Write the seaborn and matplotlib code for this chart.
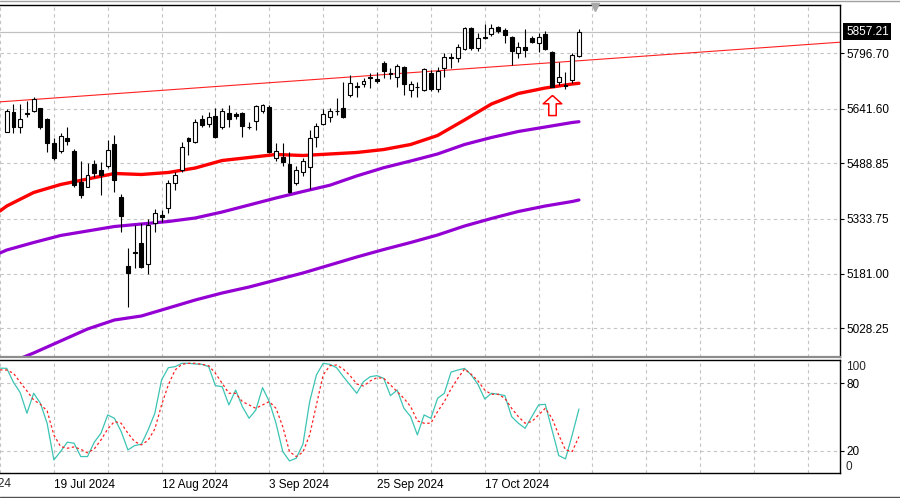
import numpy as np
import seaborn as sns
import matplotlib.pyplot as plt
from matplotlib.path import Path
from matplotlib.lines import Line2D
from matplotlib.transforms import ScaledTranslation, blended_transform_factory

# ---------------------------
# Data (daily bars, bar 0 = 10 Jul 2024)
# ---------------------------
opens = [5577.6, 5631.8, 5591.6, 5629.0, 5636.3, 5643.0, 5612.3, 5546.9, 5523.7, 5560.8,
         5523.7, 5437.8, 5423.9, 5487.3, 5470.5, 5481.7, 5543.2, 5394.2, 5202.2, 5240.5,
         5267.4, 5207.8, 5321.6, 5344.8, 5363.5, 5433.4, 5470.5, 5559.1, 5549.6, 5612.3,
         5599.1, 5621.5, 5591.6, 5630.7, 5626.2, 5629.0, 5590.7, 5608.3, 5636.3, 5645.8,
         5503.3, 5507.7, 5487.3, 5435.1, 5465.8, 5479.8, 5561.9, 5599.1, 5619.5, 5636.3,
         5643.0, 5680.2, 5705.3, 5710.9, 5726.9, 5724.0, 5768.8, 5742.5, 5729.6, 5759.3,
         5694.1, 5703.9, 5694.1, 5742.5, 5696.1, 5754.8, 5787.2, 5782.8, 5808.7, 5868.3,
         5812.4, 5838.7, 5849.8, 5871.1, 5861.8, 5843.1, 5796.7, 5815.2, 5838.7, 5824.7,
         5849.8, 5801.2, 5717.3, 5708.1, 5722.1, 5790.0]
highs = [5639.7, 5655.0, 5655.0, 5664.2, 5673.7, 5644.5, 5614.5, 5559.2, 5574.8, 5589.9,
         5528.4, 5496.5, 5489.3, 5498.5, 5493.7, 5554.4, 5568.4, 5403.5, 5251.7, 5316.8,
         5323.3, 5332.8, 5360.7, 5358.7, 5442.6, 5465.8, 5549.6, 5563.6, 5612.3, 5624.3,
         5633.5, 5643.0, 5643.0, 5652.2, 5633.5, 5633.5, 5605.5, 5652.2, 5655.0, 5652.2,
         5545.2, 5546.9, 5521.7, 5481.7, 5503.3, 5582.3, 5601.1, 5640.2, 5643.0, 5671.0,
         5717.3, 5736.1, 5717.3, 5726.9, 5740.8, 5745.3, 5776.0, 5754.8, 5766.8, 5762.0,
         5720.1, 5717.3, 5754.8, 5750.0, 5757.6, 5798.4, 5796.7, 5821.9, 5871.1, 5871.1,
         5852.6, 5877.8, 5877.8, 5873.9, 5866.6, 5845.9, 5829.1, 5864.6, 5845.9, 5852.6,
         5859.1, 5803.2, 5773.2, 5745.3, 5796.7, 5864.6]
lows = [5575.4, 5574.8, 5573.1, 5619.5, 5633.5, 5584.3, 5521.7, 5498.5, 5517.2, 5540.4,
        5423.9, 5391.5, 5422.2, 5450.1, 5400.7, 5475.3, 5409.9, 5298.1, 5088.5, 5195.8,
        5195.8, 5179.9, 5296.4, 5326.0, 5349.5, 5414.6, 5465.8, 5512.5, 5546.9, 5589.9,
        5589.9, 5559.1, 5584.3, 5589.9, 5612.3, 5561.9, 5584.3, 5582.3, 5629.0, 5517.2,
        5496.5, 5481.7, 5407.5, 5428.6, 5453.8, 5417.4, 5535.7, 5596.3, 5605.5, 5624.3,
        5615.1, 5673.7, 5675.4, 5703.4, 5698.9, 5712.9, 5726.9, 5724.1, 5703.4, 5680.2,
        5673.7, 5675.4, 5692.2, 5692.2, 5689.4, 5731.3, 5754.8, 5773.2, 5805.9, 5805.9,
        5803.2, 5836.7, 5845.9, 5852.6, 5824.7, 5764.0, 5784.4, 5787.2, 5824.7, 5801.2,
        5805.9, 5703.4, 5708.1, 5696.9, 5712.9, 5787.2]
closes = [5636.3, 5589.9, 5612.3, 5626.2, 5668.2, 5591.6, 5545.2, 5503.3, 5566.4, 5552.4,
          5428.6, 5400.7, 5456.6, 5463.0, 5456.6, 5526.4, 5442.6, 5342.0, 5183.5, 5239.4,
          5200.3, 5316.8, 5349.5, 5340.0, 5433.4, 5456.6, 5535.7, 5552.4, 5605.5, 5596.3,
          5619.5, 5561.9, 5636.3, 5612.3, 5621.5, 5594.4, 5589.9, 5649.4, 5652.2, 5521.7,
          5524.5, 5493.7, 5409.9, 5470.5, 5496.5, 5559.1, 5593.5, 5626.2, 5636.3, 5635.5,
          5617.8, 5712.9, 5703.9, 5720.1, 5731.3, 5720.1, 5748.1, 5739.7, 5761.2, 5710.9,
          5710.9, 5703.4, 5752.0, 5696.1, 5748.1, 5787.2, 5782.8, 5815.2, 5868.3, 5810.7,
          5840.3, 5843.1, 5868.3, 5859.1, 5847.9, 5803.2, 5815.2, 5805.9, 5829.1, 5843.1,
          5808.7, 5703.4, 5731.3, 5705.3, 5792.0, 5857.21]

# moving averages, read at every 4th bar
ma_idx = [-1, 0, 4, 8, 12, 16, 20, 24, 28, 32, 36, 40, 44, 48, 52, 56, 60, 64, 68, 72, 76, 80, 84, 85]
ma_fast = [5356.0, 5369.9, 5407.7, 5430.0, 5445.4, 5460.8, 5458.0, 5463.6, 5476.1, 5497.1, 5505.5, 5513.9,
           5511.1, 5515.3, 5519.5, 5527.8, 5541.8, 5567.0, 5610.3, 5655.0, 5684.4, 5699.7, 5710.9, 5712.9]
ma_mid = [5238.6, 5246.9, 5267.9, 5287.5, 5300.1, 5312.6, 5319.6, 5326.6, 5336.4, 5353.2, 5372.7, 5392.3,
          5410.5, 5428.0, 5454.0, 5477.0, 5495.7, 5515.3, 5541.8, 5561.4, 5578.2, 5590.7, 5603.3, 5605.5]
ma_slow = [4922.7, 4928.3, 4959.1, 4992.6, 5026.1, 5051.3, 5062.5, 5084.8, 5107.2, 5126.8, 5143.5, 5163.1,
           5182.7, 5205.0, 5227.4, 5248.3, 5267.9, 5288.9, 5314.0, 5335.0, 5354.6, 5369.9, 5382.5, 5386.7]

# trend line end points (bar index, price)
trend_idx = [-1, 124]
trend_val = [5661.0, 5828.0]

# stochastic %K / %D, bar -1 .. 85
stoch_k = [93.5, 93.3, 80.9, 71.7, 53.3, 71.1, 62.2, 44.4, 11.7, 19.2, 27.5, 26.6, 14.7, 14.7, 27.5, 35.5,
           51.8, 48.8, 37.0, 20.6, 24.5, 25.7, 38.4, 53.3, 83.0, 93.9, 94.8, 97.8, 97.8, 97.2, 96.9, 94.8,
           77.9, 77.0, 60.7, 74.0, 59.2, 48.8, 56.2, 76.1, 63.7, 44.4, 19.2, 10.8, 13.2, 25.7, 63.7, 87.4,
           97.8, 96.9, 93.9, 85.9, 78.5, 71.1, 81.5, 85.9, 86.8, 84.4, 69.0, 74.0, 57.7, 50.3, 34.0, 51.8,
           48.8, 66.6, 71.1, 90.0, 91.8, 93.3, 87.4, 79.1, 66.0, 71.1, 70.2, 69.0, 50.3, 44.4, 39.9, 50.3,
           60.7, 61.3, 38.4, 15.6, 12.6, 34.0, 57.1]
stoch_d = [92.0, 91.8, 88.9, 80.9, 73.2, 65.1, 61.3, 55.4, 34.0, 23.6, 22.1, 23.3, 21.2, 18.0, 21.5, 29.5,
           39.3, 45.9, 44.4, 35.5, 28.1, 25.1, 29.2, 39.3, 60.7, 78.5, 91.8, 96.9, 97.8, 97.8, 96.9, 95.7,
           88.9, 80.0, 71.1, 71.1, 63.7, 60.7, 57.7, 60.7, 63.7, 57.7, 41.4, 19.2, 14.7, 18.6, 34.0, 60.7,
           87.4, 95.7, 96.3, 92.7, 86.8, 79.4, 77.6, 82.1, 85.0, 84.4, 78.5, 72.6, 66.6, 59.2, 46.5, 44.4,
           44.4, 54.8, 63.7, 75.0, 84.4, 92.7, 88.0, 82.1, 74.0, 70.2, 70.2, 66.6, 57.7, 50.3, 44.4, 45.9,
           51.8, 57.7, 48.8, 34.0, 20.6, 19.2, 32.5]

price_ticks = [5028.25, 5181.00, 5333.75, 5488.85, 5641.60, 5796.70]
last_price = 5857.21
date_idx = [7, 23, 39, 55, 71]
date_labels = ["19 Jul 2024", "12 Aug 2024", "3 Sep 2024", "25 Sep 2024", "17 Oct 2024"]
cut_date_idx = -9
cut_date_label = "27 Jun 2024"
arrow_bar = 81

# ---------------------------
# Layout
# ---------------------------
sns.set_style("white")
plt.rcParams['font.family'] = ['Liberation Sans', 'DejaVu Sans']
FS = 8.5
GRID = dict(color='#c4c4c4', linestyle=(0, (3, 3)), linewidth=0.8)

W, H = 900, 498
fig = plt.figure(figsize=(W / 100, H / 100), dpi=100)


def fy(px):
    return 1 - px / H


ax = fig.add_axes([0, fy(356.5), 840 / W, (356.5 - 5) / H])
ax2 = fig.add_axes([0, fy(472.5), 840 / W, (472.5 - 359.5) / H])

xlo, xhi = -4.5 / 6.75, (840 - 4.5) / 6.75
grid_idx = np.arange(-1, 125, 8)

# ---------------------------
# Price panel
# ---------------------------
o, h, l, c = (np.array(v) for v in (opens, highs, lows, closes))
idx = np.arange(len(c))
up = c >= o

sns.lineplot(x=ma_idx, y=ma_slow, ax=ax, color='#9400d3', lw=2.3, zorder=2)
sns.lineplot(x=ma_idx, y=ma_mid, ax=ax, color='#9400d3', lw=2.3, zorder=2)
sns.lineplot(x=ma_idx, y=ma_fast, ax=ax, color='#ff0000', lw=2.4, zorder=2)
ax.plot(trend_idx, trend_val, color='#ff2020', lw=0.8, zorder=2)
ax.axhline(last_price, color='#c0c0c0', lw=0.9, zorder=1)

ax.vlines(idx, l, h, color='black', lw=0.8, zorder=3)
ax.bar(idx[up], (c - o)[up], bottom=o[up], width=0.58, color='white',
       edgecolor='black', linewidth=0.8, zorder=4)
ax.bar(idx[~up], (o - c)[~up], bottom=c[~up], width=0.58, color='black',
       edgecolor='black', linewidth=0.8, zorder=4)

# hollow up arrow under the 31 Oct bar
arrow = Path([(0, 1), (0.92, 0.17), (0.37, 0.17), (0.37, -1), (-0.37, -1),
              (-0.37, 0.17), (-0.92, 0.17), (0, 1)])
ax.plot([arrow_bar], [lows[arrow_bar]], marker=arrow, ms=14.5, mfc='white', mec='#ff0000',
        mew=1.1, ls='none', zorder=5,
        transform=ax.transData + ScaledTranslation(0, -0.183, fig.dpi_scale_trans))

ax.set_xlim(xlo, xhi)
ax.set_ylim(4949.3, 5931.7)
ax.set_xticks(grid_idx)
ax.tick_params(axis='x', length=0, labelbottom=False)
ax.yaxis.tick_right()
ax.set_yticks(price_ticks)
ax.set_yticklabels([f"{v:.2f}" for v in price_ticks])
ax.tick_params(axis='y', length=3, width=0.8, pad=1.8, labelsize=FS, colors='black')
ax.grid(True, **GRID)
ax.set_axisbelow(True)
ax.spines['left'].set_visible(False)
for s in ('top', 'right'):
    ax.spines[s].set_color('black')
    ax.spines[s].set_linewidth(1.0)
ax.spines['bottom'].set_color('#8c8c8c')
ax.spines['bottom'].set_linewidth(1.6)

ax.text(846 / 840, last_price, f"{last_price:.2f}", color='white', fontsize=FS,
        ha='left', va='center', clip_on=False,
        transform=blended_transform_factory(ax.transAxes, ax.transData),
        bbox=dict(boxstyle='square,pad=0.22', fc='black', ec='none'))

# ---------------------------
# Stochastic panel
# ---------------------------
s_idx = np.arange(-1, len(stoch_k) - 1)
sns.lineplot(x=s_idx, y=stoch_k, ax=ax2, color='#3cc4b4', lw=0.9)
sns.lineplot(x=s_idx, y=stoch_d, ax=ax2, color='#ff2020', lw=0.9, linestyle=(0, (2, 2)))

ax2.set_xlim(xlo, xhi)
ax2.set_ylim(0.5, 101.2)
ax2.set_xticks(date_idx)
ax2.set_xticklabels(date_labels, ha='left')
ax2.set_xticks([g for g in grid_idx if g not in date_idx], minor=True)
ax2.tick_params(axis='x', which='major', length=3, width=0.8, pad=2, labelsize=FS, colors='black')
ax2.tick_params(axis='x', which='minor', length=0)
ax2.yaxis.tick_right()
ax2.set_yticks([20, 80])
ax2.set_yticklabels(["20", "80"])
ax2.tick_params(axis='y', length=3, width=0.8, pad=1.8, labelsize=FS, colors='black')
ax2.grid(True, which='both', **GRID)
ax2.set_axisbelow(True)
ax2.spines['left'].set_visible(False)
for s in ('top', 'right', 'bottom'):
    ax2.spines[s].set_color('black')
    ax2.spines[s].set_linewidth(1.0)

ytr = blended_transform_factory(ax2.transAxes, ax2.transData)
ax2.text(846 / 840, 100, "100", fontsize=FS, ha='left', va='top', transform=ytr, clip_on=False)
ax2.text(846 / 840, 0.5, "0", fontsize=FS, ha='left', va='bottom', transform=ytr, clip_on=False)
ax2.text(cut_date_idx, -5.5 / 113, cut_date_label, fontsize=FS, ha='left', va='top',
         transform=ax2.get_xaxis_transform(), clip_on=False)

# window frame lines
fig.add_artist(Line2D([0, 1], [fy(1.5)] * 2, color='#a0a0a0', lw=1.0))
fig.add_artist(Line2D([0, 1], [fy(496.8)] * 2, color='#505050', lw=1.0))
fig.add_artist(Line2D([595 / W], [fy(7.5)], marker='v', ms=6, color='#a8a8a8', ls='none'))

fig.savefig("out.png", dpi=100)
